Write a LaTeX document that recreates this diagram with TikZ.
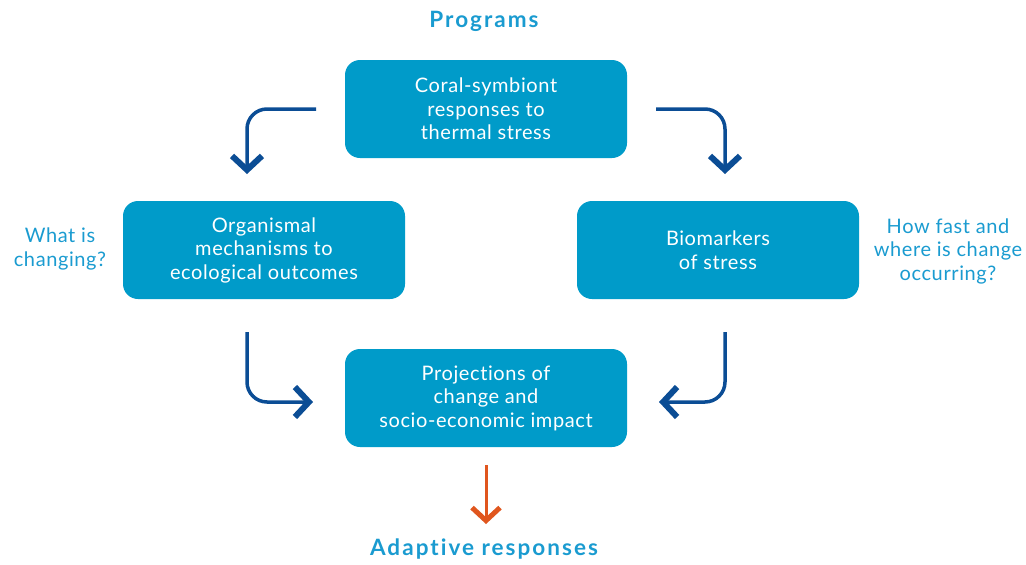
\documentclass[tikz,border=0pt]{standalone}
\usepackage{fontspec}
\setmainfont{Lato}
\newfontfamily\bodyfont[LetterSpace=3,Ligatures=NoCommon]{Lato}
\newfontfamily\titlefont[LetterSpace=9,Ligatures=NoCommon]{Lato Bold}
\usetikzlibrary{arrows.meta}
\definecolor{boxblue}{HTML}{009BC9}
\definecolor{titleblue}{HTML}{1A9BD0}
\definecolor{arrowblue}{HTML}{0B4D95}
\definecolor{arroworange}{HTML}{E0561E}
\begin{document}
\begin{tikzpicture}[x=1pt,y=-1pt,
  box/.style={fill=boxblue, rounded corners=15pt, minimum width=282pt, minimum height=98pt,
    text=white, align=center, font=\bodyfont\fontsize{20}{23.5}\selectfont, inner sep=0pt},
  side/.style={text=titleblue, align=center, font=\bodyfont\fontsize{20}{23.5}\selectfont},
  title/.style={text=titleblue, font=\titlefont\fontsize{22.5}{26}\selectfont},
  flow/.style={draw=arrowblue, line width=3.5pt, rounded corners=20pt,
    -{Straight Barb[length=14pt,width=30pt,line width=6pt]}},
  outflow/.style={draw=arroworange, line width=3pt,
    -{Straight Barb[length=13pt,width=28pt,line width=5pt]}}]
\useasboundingbox (0,0) rectangle (1026,565);
\node[title] (prog) at (484,21) {Programs};
\node[box] (top) at (486,109) {Coral-symbiont\\responses to\\thermal stress};
\node[box] (left) at (264,250) {Organismal\\mechanisms to\\ecological outcomes};
\node[box] (right) at (718,250) {Biomarkers\\of stress};
\node[box] (bot) at (486,398) {Projections of\\change and\\socio-economic impact};
\node[side] (what) at (60,249) {What is\\changing?};
\node[side] (how) at (948,251) {How fast and\\where is change\\occurring?};
\node[title] (adapt) at (484,549) {Adaptive responses};
\coordinate (tl) at (316,109);
\coordinate (tlend) at (247,174);
\coordinate (tr) at (656,109);
\coordinate (trend) at (725,174);
\coordinate (bl) at (247,332);
\coordinate (blend) at (313,402);
\coordinate (br) at (725,332);
\coordinate (brend) at (659,402);
\coordinate (os) at (486,465);
\coordinate (oe) at (486,524);
\draw[flow] (tl) -| (tlend);
\draw[flow] (tr) -| (trend);
\draw[flow] (bl) |- (blend);
\draw[flow] (br) |- (brend);
\draw[outflow] (os) -- (oe);
\end{tikzpicture}
\end{document}
